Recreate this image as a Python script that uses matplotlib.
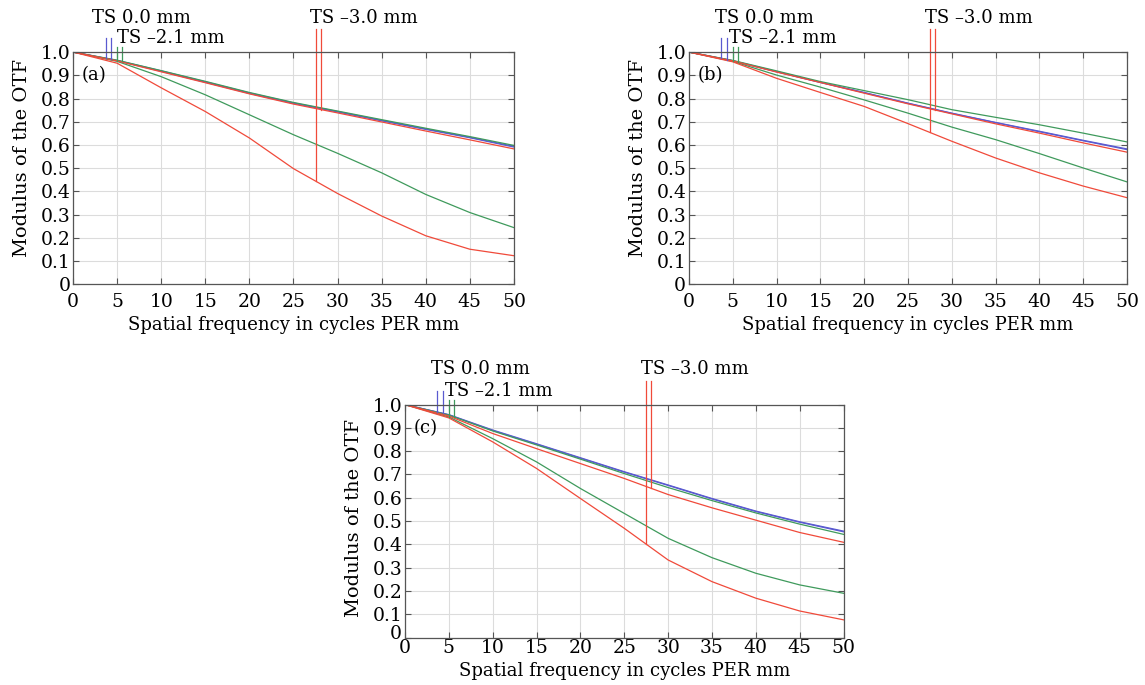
import numpy as np
import matplotlib
matplotlib.use("Agg")
import matplotlib.pyplot as plt
import matplotlib.transforms as mtransforms

plt.rcParams['font.family'] = ['DejaVu Serif']

freq = [0, 5, 10, 15, 20, 25, 30, 35, 40, 45, 50]

# panel (a)
a_blue_t = [1.0, 0.964, 0.919, 0.872, 0.824, 0.781, 0.744, 0.706, 0.669, 0.633, 0.594]
a_blue_s = [1.0, 0.963, 0.917, 0.870, 0.822, 0.779, 0.742, 0.704, 0.667, 0.631, 0.591]
a_green_s = [1.0, 0.965, 0.920, 0.874, 0.826, 0.783, 0.746, 0.709, 0.672, 0.636, 0.598]
a_red_s = [1.0, 0.962, 0.915, 0.868, 0.820, 0.776, 0.738, 0.699, 0.660, 0.622, 0.583]
a_green_t = [1.0, 0.960, 0.894, 0.816, 0.730, 0.644, 0.564, 0.480, 0.387, 0.309, 0.244]
a_red_t = [1.0, 0.952, 0.846, 0.744, 0.630, 0.498, 0.391, 0.294, 0.209, 0.151, 0.123]

# panel (b)
b_blue_t = [1.0, 0.963, 0.916, 0.870, 0.826, 0.780, 0.737, 0.697, 0.659, 0.620, 0.583]
b_blue_s = [1.0, 0.962, 0.915, 0.869, 0.825, 0.779, 0.736, 0.696, 0.657, 0.618, 0.580]
b_green_s = [1.0, 0.964, 0.919, 0.873, 0.834, 0.795, 0.752, 0.719, 0.687, 0.651, 0.613]
b_red_s = [1.0, 0.962, 0.914, 0.869, 0.823, 0.777, 0.734, 0.691, 0.651, 0.609, 0.569]
b_green_t = [1.0, 0.960, 0.901, 0.849, 0.794, 0.737, 0.677, 0.623, 0.563, 0.501, 0.441]
b_red_t = [1.0, 0.958, 0.887, 0.826, 0.766, 0.692, 0.616, 0.544, 0.480, 0.423, 0.373]

# panel (c)
c_blue_t = [1.0, 0.957, 0.891, 0.832, 0.772, 0.712, 0.655, 0.597, 0.543, 0.497, 0.457]
c_blue_s = [1.0, 0.956, 0.889, 0.830, 0.770, 0.710, 0.653, 0.595, 0.541, 0.495, 0.454]
c_green_s = [1.0, 0.955, 0.887, 0.827, 0.766, 0.704, 0.644, 0.588, 0.535, 0.487, 0.443]
c_red_s = [1.0, 0.951, 0.876, 0.811, 0.747, 0.683, 0.614, 0.557, 0.504, 0.451, 0.409]
c_green_t = [1.0, 0.947, 0.854, 0.754, 0.640, 0.533, 0.426, 0.343, 0.276, 0.226, 0.190]
c_red_t = [1.0, 0.943, 0.840, 0.726, 0.597, 0.469, 0.333, 0.240, 0.169, 0.114, 0.076]

# field marker positions (x) and label texts
blue_marks = [3.7, 4.3]
green_marks = [5.0, 5.6]
red_marks = [27.5, 28.1]
labels = ['TS 0.0 mm', 'TS \u20132.1 mm', 'TS \u20133.0 mm']
panel_names = ['(a)', '(b)', '(c)']

BLUE = '#5a5ad0'
GREEN = '#3f9a5c'
RED = '#f04a3a'

fig = plt.figure(figsize=(11.45, 6.85), dpi=100)
ax_a = fig.add_axes([0.0638, 0.585, 0.385, 0.339])
ax_b = fig.add_axes([0.6017, 0.585, 0.3825, 0.339])
ax_c = fig.add_axes([0.3537, 0.0693, 0.383, 0.340])

panels = [
    (ax_a, a_blue_t, a_blue_s, a_green_t, a_green_s, a_red_t, a_red_s),
    (ax_b, b_blue_t, b_blue_s, b_green_t, b_green_s, b_red_t, b_red_s),
    (ax_c, c_blue_t, c_blue_s, c_green_t, c_green_s, c_red_t, c_red_s),
]

for i, (ax, bt, bs, gt, gs, rt, rs) in enumerate(panels):
    lw = 0.9
    ax.plot(freq, bt, color=BLUE, lw=lw)
    ax.plot(freq, bs, color=BLUE, lw=lw)
    ax.plot(freq, gs, color=GREEN, lw=lw)
    ax.plot(freq, gt, color=GREEN, lw=lw)
    ax.plot(freq, rs, color=RED, lw=lw)
    ax.plot(freq, rt, color=RED, lw=lw)

    # vertical field markers, from label down to the curve
    for x, curve in zip(blue_marks, [bt, bs]):
        ax.plot([x, x], [1.06, np.interp(x, freq, curve)], color=BLUE, lw=lw, clip_on=False)
    for x, curve in zip(green_marks, [gt, gs]):
        ax.plot([x, x], [1.02, np.interp(x, freq, curve)], color=GREEN, lw=lw, clip_on=False)
    for x, curve in zip(red_marks, [rt, rs]):
        ax.plot([x, x], [1.10, np.interp(x, freq, curve)], color=RED, lw=lw, clip_on=False)

    ytop = 1.155 if i == 2 else 1.147
    ax.text(2.2 if i == 0 else 3.0, ytop, labels[0], fontsize=13, va='center', ha='left')
    ax.text(5.0 if i == 0 else 4.6, 1.06, labels[1], fontsize=13, va='center', ha='left')
    ax.text(26.9, ytop, labels[2], fontsize=13, va='center', ha='left')
    ax.text(0.02, 0.9, panel_names[i], fontsize=13, transform=ax.transAxes,
            va='center', ha='left')

    ax.set_xlim(0, 50)
    ax.set_ylim(0, 1.0)
    ax.set_xticks(range(0, 51, 5))
    ax.set_yticks(np.arange(0, 1.01, 0.1))
    ax.set_yticklabels(['0'] + ['%.1f' % v for v in np.arange(0.1, 1.01, 0.1)])
    ax.grid(color='#dcdcdc', lw=0.8)
    ax.set_axisbelow(True)
    ax.tick_params(direction='in', top=True, right=True, length=4, width=0.8,
                   color='#555555', labelsize=13.5)
    ax.tick_params(axis='y', pad=2)
    ax.tick_params(axis='x', pad=6 if i < 2 else 1)
    for sp in ax.spines.values():
        sp.set_color('#555555')
        sp.set_linewidth(0.9)
    ax.set_xlabel('Spatial frequency in cycles PER mm', fontsize=13, labelpad=4)
    ax.set_ylabel('Modulus of the OTF', fontsize=14)
    ax.yaxis.set_label_coords(-0.095, 0.513 if i == 2 else 0.543)

# in (c) the y "0" sits a little higher, clear of the x "0"
lab0 = ax_c.get_yticklabels()[0]
lab0.set_transform(lab0.get_transform() + mtransforms.ScaledTranslation(0, 0.06, fig.dpi_scale_trans))

fig.savefig('out.png', dpi=100)
